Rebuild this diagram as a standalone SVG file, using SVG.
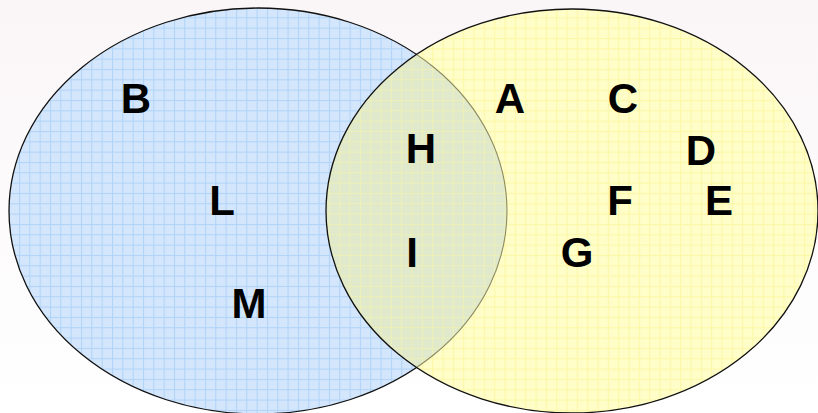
<svg xmlns="http://www.w3.org/2000/svg" width="818" height="413" viewBox="0 0 818 413">
  <style>
    .lbl { font-family: "Liberation Sans", Arial, sans-serif; font-weight: bold; font-size: 42px; fill: #000; text-anchor: middle; }
    .edge { fill: none; stroke: #111; stroke-width: 1.3; }
  </style>
  <defs>
    <linearGradient id="bg" x1="0" y1="0" x2="0" y2="1">
      <stop offset="0" stop-color="#faf6f8"/>
      <stop offset="1" stop-color="#ffffff"/>
    </linearGradient>
    <pattern id="gridBlue" patternUnits="userSpaceOnUse" x="8.67" y="7" width="10.33" height="10.33">
      <rect width="10.33" height="10.33" fill="#d3e6fc"/>
      <rect width="10.33" height="1" fill="#b0d3f8"/>
      <rect width="1" height="10.33" fill="#b0d3f8"/>
    </pattern>
    <pattern id="gridYellow" patternUnits="userSpaceOnUse" x="8.67" y="7" width="10.33" height="10.33">
      <rect width="10.33" height="10.33" fill="#fffdc8"/>
      <rect width="10.33" height="1" fill="#fcf8a6"/>
      <rect width="1" height="10.33" fill="#fcf8a6"/>
    </pattern>
    <pattern id="gridMix" patternUnits="userSpaceOnUse" x="8.67" y="7" width="10.33" height="10.33">
      <rect width="10.33" height="10.33" fill="#e0e9cb"/>
      <rect width="10.33" height="1" fill="#edf0b6"/>
      <rect width="1" height="10.33" fill="#edf0b6"/>
    </pattern>
    <clipPath id="clipRight">
      <ellipse cx="572" cy="211" rx="246" ry="202"/>
    </clipPath>
  </defs>

  <rect width="818" height="413" fill="url(#bg)"/>

  <g id="setLeft">
    <ellipse cx="258" cy="211" rx="249" ry="203" fill="url(#gridBlue)" stroke="#111" stroke-width="1.3"/>
  </g>

  <g id="setRight">
    <ellipse cx="572" cy="211" rx="246" ry="202" fill="url(#gridYellow)"/>
  </g>

  <g id="overlap" clip-path="url(#clipRight)">
    <ellipse cx="258" cy="211" rx="249" ry="203" fill="url(#gridMix)" stroke="#8c8a62" stroke-width="1.1"/>
  </g>

  <ellipse cx="572" cy="211" rx="246" ry="202" class="edge"/>

  <g id="labelsLeft">
    <text class="lbl" x="136" y="113">B</text>
    <text class="lbl" x="222" y="215">L</text>
    <text class="lbl" x="249" y="318">M</text>
  </g>
  <g id="labelsOverlap">
    <text class="lbl" x="421" y="163">H</text>
    <text class="lbl" x="412" y="267">I</text>
  </g>
  <g id="labelsRight">
    <text class="lbl" x="510" y="113">A</text>
    <text class="lbl" x="623" y="113">C</text>
    <text class="lbl" x="701" y="165">D</text>
    <text class="lbl" x="620" y="215">F</text>
    <text class="lbl" x="719" y="215">E</text>
    <text class="lbl" x="577" y="267">G</text>
  </g>
</svg>
